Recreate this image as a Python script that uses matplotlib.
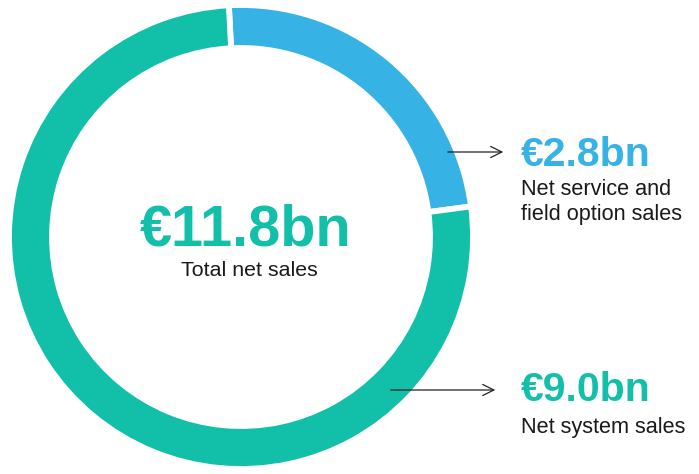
import matplotlib.pyplot as plt

# net sales split, in EUR bn
segments = ['Net service and field option sales', 'Net system sales']
values = [2.8, 9.0]
total = 11.8
colors = ['#37b2e5', '#12bfa9']
value_labels = ['€2.8bn', '€9.0bn']
caption_labels = ['Net service and\nfield option sales', 'Net system sales']

W, H = 699, 474
fig = plt.figure(figsize=(W / 100, H / 100), dpi=100)
ax = fig.add_axes([0, 0, 1, 1])

cx, cy = 241, H - 237
ax.pie(values, colors=colors, startangle=93, counterclock=False,
       center=(cx, cy), radius=232,
       wedgeprops=dict(width=43, edgecolor='white', linewidth=4.2))

ax.set_xlim(0, W)
ax.set_ylim(0, H)
ax.set_aspect('equal')
ax.axis('off')

font = 'Liberation Sans'
ax.text(cx + 5, H - 230, f'€{total}bn', ha='center', va='center',
        fontsize=41.5, fontweight='bold', color=colors[1], family=font)
ax.text(cx + 8, H - 271, 'Total net sales', ha='center', va='center',
        fontsize=15.4, color='#1a1a1a', family=font)

# arrows pointing at each ring segment, with their labels
arrow_y = [152, 390]
arrow_x = [(445, 506), (388, 498)]
value_y = [155, 390]
caption_y = [202, 427]
for i in range(len(values)):
    x0, x1 = arrow_x[i]
    ax.annotate('', xy=(x1, H - arrow_y[i]), xytext=(x0, H - arrow_y[i]),
                arrowprops=dict(arrowstyle='->', color='#222222', lw=0.9,
                                mutation_scale=20))
    ax.text(521, H - value_y[i], value_labels[i], ha='left', va='center',
            fontsize=29.5, fontweight='bold', color=colors[i], family=font)
    ax.text(521, H - caption_y[i], caption_labels[i], ha='left', va='center',
            fontsize=15.6, color='#1a1a1a', family=font, linespacing=1.3)

fig.savefig('out.png', dpi=100)
